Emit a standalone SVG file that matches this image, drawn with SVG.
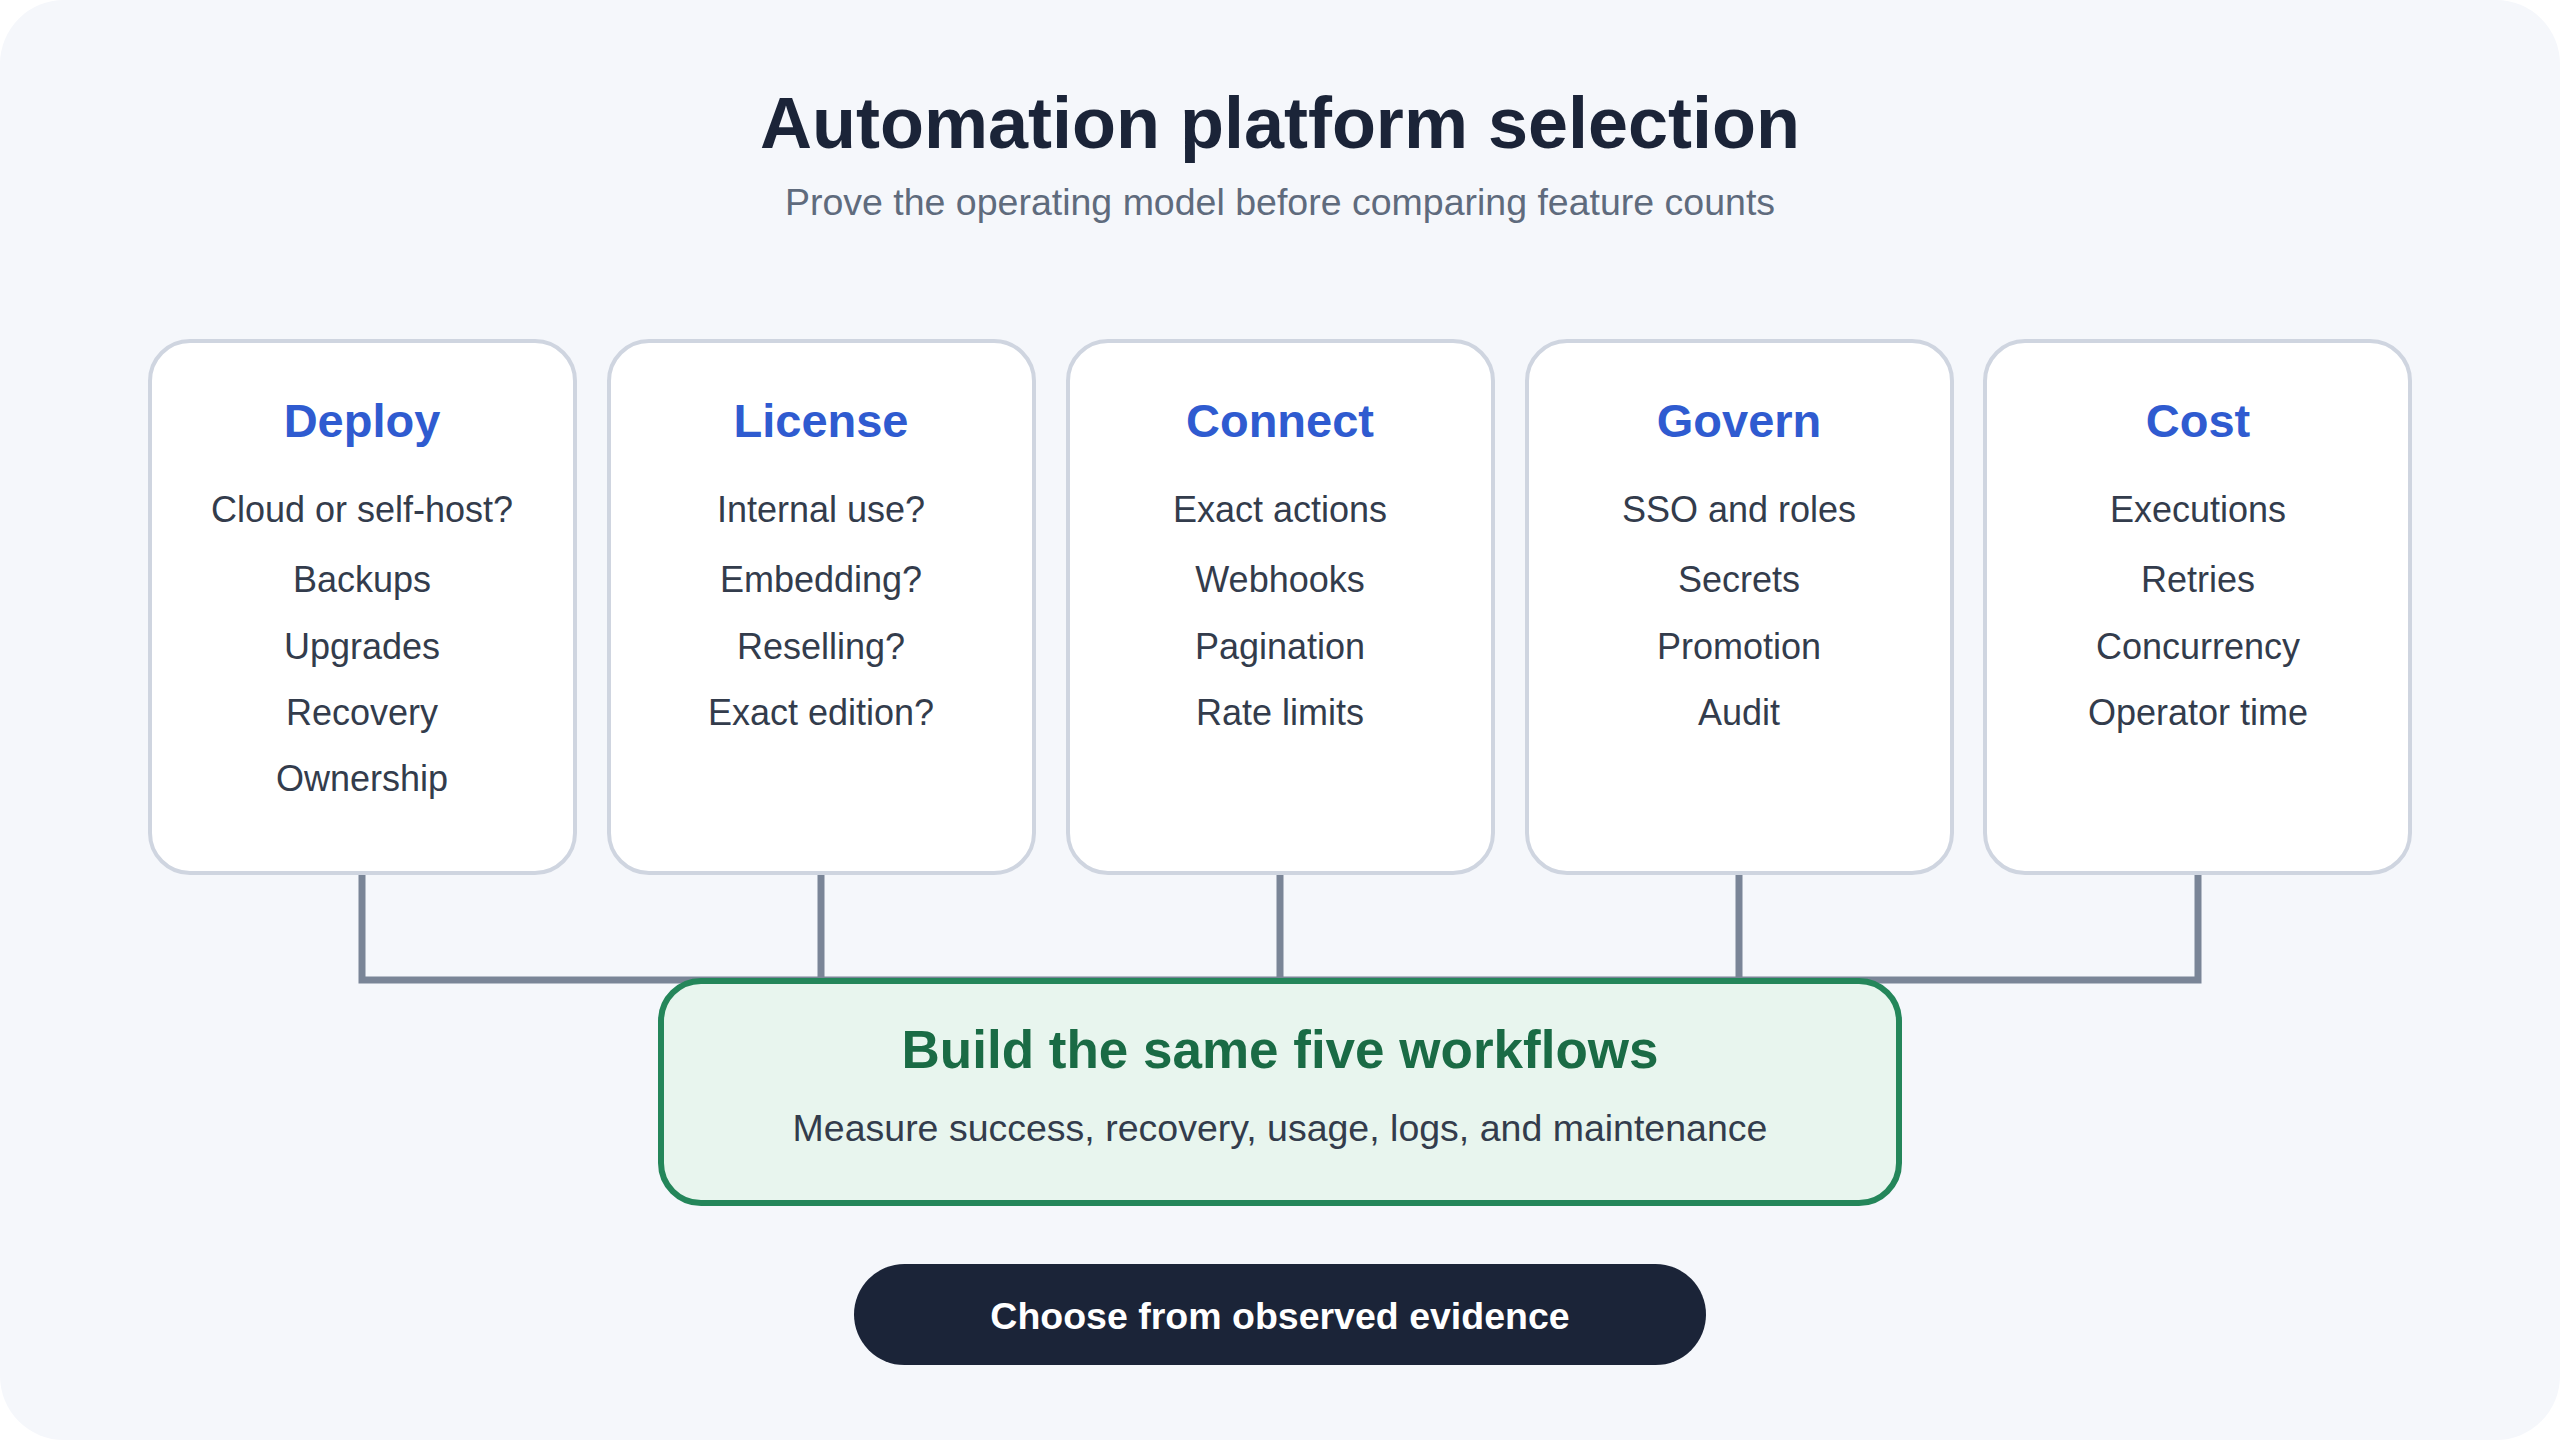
<svg xmlns="http://www.w3.org/2000/svg" width="2560" height="1440" viewBox="0 0 2560 1440">
<style>
text{font-family:"Liberation Sans",Arial,sans-serif;text-anchor:middle}
.card{fill:#fff;stroke:#cfd5e0;stroke-width:4}
.h{font-size:47px;font-weight:bold;fill:#2f5bd0}
.i{font-size:36px;fill:#333c4c}
.c{fill:none;stroke:#7a8597;stroke-width:7}
</style>
<rect x="0" y="0" width="2560" height="1440" rx="64" fill="#f5f7fb"/>
<text x="1280" y="148" font-size="72" font-weight="bold" fill="#1b2438">Automation platform selection</text>
<text x="1280" y="215" font-size="37.5" fill="#5f6b7d">Prove the operating model before comparing feature counts</text>
<g id="connectors">
<path class="c" d="M362 873V980H2198V873M821 873V980M1280 873V980M1739 873V980"/>
</g>
<g id="deploy"><rect class="card" x="150" y="341" width="425" height="532" rx="40"/>
<text class="h" x="362" y="437">Deploy</text>
<text class="i" x="362" y="522">Cloud or self-host?</text><text class="i" x="362" y="592">Backups</text><text class="i" x="362" y="659">Upgrades</text><text class="i" x="362" y="725">Recovery</text><text class="i" x="362" y="791">Ownership</text></g>
<g id="license"><rect class="card" x="609" y="341" width="425" height="532" rx="40"/>
<text class="h" x="821" y="437">License</text>
<text class="i" x="821" y="522">Internal use?</text><text class="i" x="821" y="592">Embedding?</text><text class="i" x="821" y="659">Reselling?</text><text class="i" x="821" y="725">Exact edition?</text></g>
<g id="connect"><rect class="card" x="1068" y="341" width="425" height="532" rx="40"/>
<text class="h" x="1280" y="437">Connect</text>
<text class="i" x="1280" y="522">Exact actions</text><text class="i" x="1280" y="592">Webhooks</text><text class="i" x="1280" y="659">Pagination</text><text class="i" x="1280" y="725">Rate limits</text></g>
<g id="govern"><rect class="card" x="1527" y="341" width="425" height="532" rx="40"/>
<text class="h" x="1739" y="437">Govern</text>
<text class="i" x="1739" y="522">SSO and roles</text><text class="i" x="1739" y="592">Secrets</text><text class="i" x="1739" y="659">Promotion</text><text class="i" x="1739" y="725">Audit</text></g>
<g id="cost"><rect class="card" x="1985" y="341" width="425" height="532" rx="40"/>
<text class="h" x="2198" y="437">Cost</text>
<text class="i" x="2198" y="522">Executions</text><text class="i" x="2198" y="592">Retries</text><text class="i" x="2198" y="659">Concurrency</text><text class="i" x="2198" y="725">Operator time</text></g>
<g id="build"><rect x="661" y="981" width="1238" height="222" rx="40" fill="#e8f5ee" stroke="#24865a" stroke-width="6"/>
<text x="1280" y="1068" font-size="53" font-weight="bold" fill="#1a6b45">Build the same five workflows</text>
<text x="1280" y="1141" font-size="37.5" fill="#333c4c">Measure success, recovery, usage, logs, and maintenance</text></g>
<g id="choose"><rect x="854" y="1264" width="852" height="101" rx="50.5" fill="#1b2438"/>
<text x="1280" y="1329" font-size="37.5" font-weight="bold" fill="#fff">Choose from observed evidence</text></g>
</svg>
